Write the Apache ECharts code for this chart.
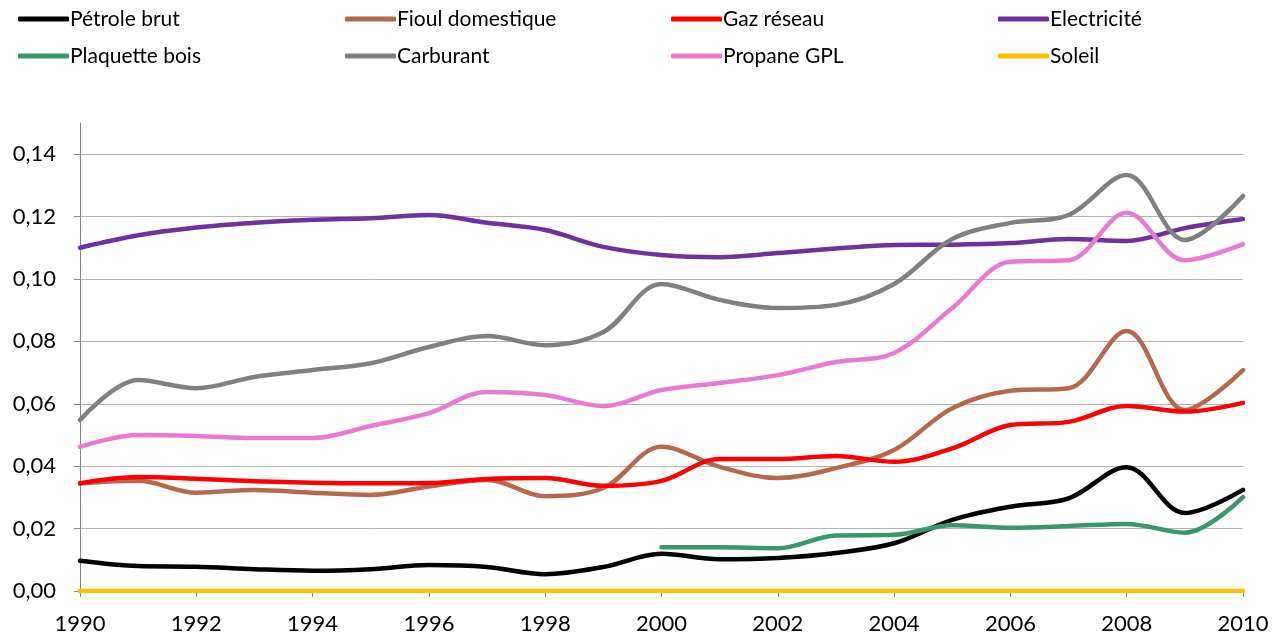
<!DOCTYPE html>
<html>
<head>
<meta charset="utf-8">
<title>Prix des énergies</title>
<script src="https://cdn.jsdelivr.net/npm/echarts@6/dist/echarts.min.js"></script>
<style>
  html, body { margin: 0; padding: 0; background: #fff; }
  #chart { width: 1287px; height: 639px; }
</style>
</head>
<body>
<div id="chart"></div>
<script>
// années (axe x)
var years = [1990, 1991, 1992, 1993, 1994, 1995, 1996, 1997, 1998, 1999, 2000,
             2001, 2002, 2003, 2004, 2005, 2006, 2007, 2008, 2009, 2010];
var yTicks = [0, 0.02, 0.04, 0.06, 0.08, 0.10, 0.12, 0.14];

// valeurs
var petroleBrut = [0.0097, 0.0080, 0.0078, 0.0070, 0.0065, 0.0070, 0.0083, 0.0077, 0.0054, 0.0077, 0.0119,
                   0.0102, 0.0106, 0.0122, 0.0153, 0.0228, 0.0270, 0.0297, 0.0397, 0.0250, 0.0324];
var fioulDomestique = [0.0345, 0.0353, 0.0315, 0.0324, 0.0315, 0.0308, 0.0335, 0.0356, 0.0304, 0.0330, 0.0462,
                       0.0398, 0.0362, 0.0394, 0.0452, 0.0586, 0.0642, 0.0650, 0.0833, 0.0580, 0.0708];
var gazReseau = [0.0345, 0.0365, 0.0360, 0.0352, 0.0347, 0.0345, 0.0346, 0.0359, 0.0362, 0.0337, 0.0353,
                 0.0423, 0.0423, 0.0433, 0.0414, 0.0457, 0.0532, 0.0542, 0.0593, 0.0575, 0.0603];
var electricite = [0.1100, 0.1140, 0.1165, 0.1180, 0.1190, 0.1195, 0.1205, 0.1180, 0.1157, 0.1103, 0.1077,
                   0.1070, 0.1083, 0.1098, 0.1109, 0.1110, 0.1115, 0.1128, 0.1122, 0.1163, 0.1192];
var plaquetteBois = [null, null, null, null, null, null, null, null, null, null, 0.0140,
                     0.0140, 0.0137, 0.0178, 0.0180, 0.0211, 0.0203, 0.0208, 0.0215, 0.0187, 0.0301];
var carburant = [0.0548, 0.0676, 0.0650, 0.0686, 0.0708, 0.0730, 0.0782, 0.0817, 0.0788, 0.0830, 0.0984,
                 0.0933, 0.0907, 0.0917, 0.0984, 0.1128, 0.1180, 0.1205, 0.1333, 0.1125, 0.1266];
var propaneGPL = [0.0462, 0.0500, 0.0497, 0.0490, 0.0490, 0.0529, 0.0570, 0.0638, 0.0628, 0.0593, 0.0644,
                  0.0667, 0.0692, 0.0734, 0.0763, 0.0907, 0.1055, 0.1060, 0.1212, 0.1060, 0.1112];
var soleil = [0, 0, 0, 0, 0, 0, 0, 0, 0, 0, 0, 0, 0, 0, 0, 0, 0, 0, 0, 0, 0];

var FONT = 'Lato';

function pairs(vals) {
  return years.map(function (y, i) { return [y, vals[i]]; });
}

function serie(name, vals, color) {
  return {
    name: name,
    type: 'line',
    data: pairs(vals),
    smooth: 0.35,
    showSymbol: false,
    symbol: 'none',
    connectNulls: false,
    lineStyle: { color: color, width: 4.5, cap: 'round', join: 'round' },
    itemStyle: { color: color },
    emphasis: { disabled: true }
  };
}

function legende(left, names) {
  return {
    orient: 'vertical',
    left: left,
    top: 2,
    data: names,
    icon: 'roundRect',
    itemWidth: 51,
    itemHeight: 5,
    itemGap: 13,
    selectedMode: false,
    textStyle: { fontFamily: FONT, fontSize: 21, color: '#000', lineHeight: 24, padding: [0, 0, 0, -4] }
  };
}

var chart = echarts.init(document.getElementById('chart'), null, { renderer: 'canvas' });
chart.setOption({
  animation: false,
  backgroundColor: '#fff',
  legend: [
    legende(13, ['Pétrole brut', 'Plaquette bois']),
    legende(340, ['Fioul domestique', 'Carburant']),
    legende(666, ['Gaz réseau', 'Propane GPL']),
    legende(993, ['Electricité', 'Soleil'])
  ],
  grid: { left: 80, right: 44, top: 123, bottom: 48, containLabel: false },
  xAxis: {
    type: 'value',
    min: 1990,
    max: 2010,
    interval: 2,
    axisLine: { show: true, lineStyle: { color: '#868686', width: 1 } },
    axisTick: { show: true, inside: false, length: 6, lineStyle: { color: '#868686' } },
    splitLine: { show: false },
    axisLabel: {
      margin: 22,
      fontFamily: FONT,
      fontSize: 22,
      color: '#000',
      formatter: function (v) { return String(v); }
    }
  },
  yAxis: {
    type: 'value',
    min: 0,
    max: 0.15,
    interval: 0.02,
    axisLine: { show: true, lineStyle: { color: '#868686', width: 1 } },
    axisTick: { show: true, inside: false, length: 6, customValues: yTicks, lineStyle: { color: '#868686' } },
    splitLine: { show: true, showMinLine: false, lineStyle: { color: '#B3B3B3', width: 1 } },
    axisLabel: {
      margin: 24,
      fontFamily: FONT,
      fontSize: 22,
      color: '#000',
      customValues: yTicks,
      formatter: function (v) { return v.toFixed(2).replace('.', ','); }
    }
  },
  series: [
    serie('Pétrole brut', petroleBrut, '#000000'),
    serie('Fioul domestique', fioulDomestique, '#B6694A'),
    serie('Gaz réseau', gazReseau, '#FF0000'),
    serie('Electricité', electricite, '#7030A0'),
    serie('Plaquette bois', plaquetteBois, '#37996B'),
    serie('Carburant', carburant, '#808080'),
    serie('Propane GPL', propaneGPL, '#E87AD6'),
    serie('Soleil', soleil, '#FFC000')
  ]
});
</script>
</body>
</html>
